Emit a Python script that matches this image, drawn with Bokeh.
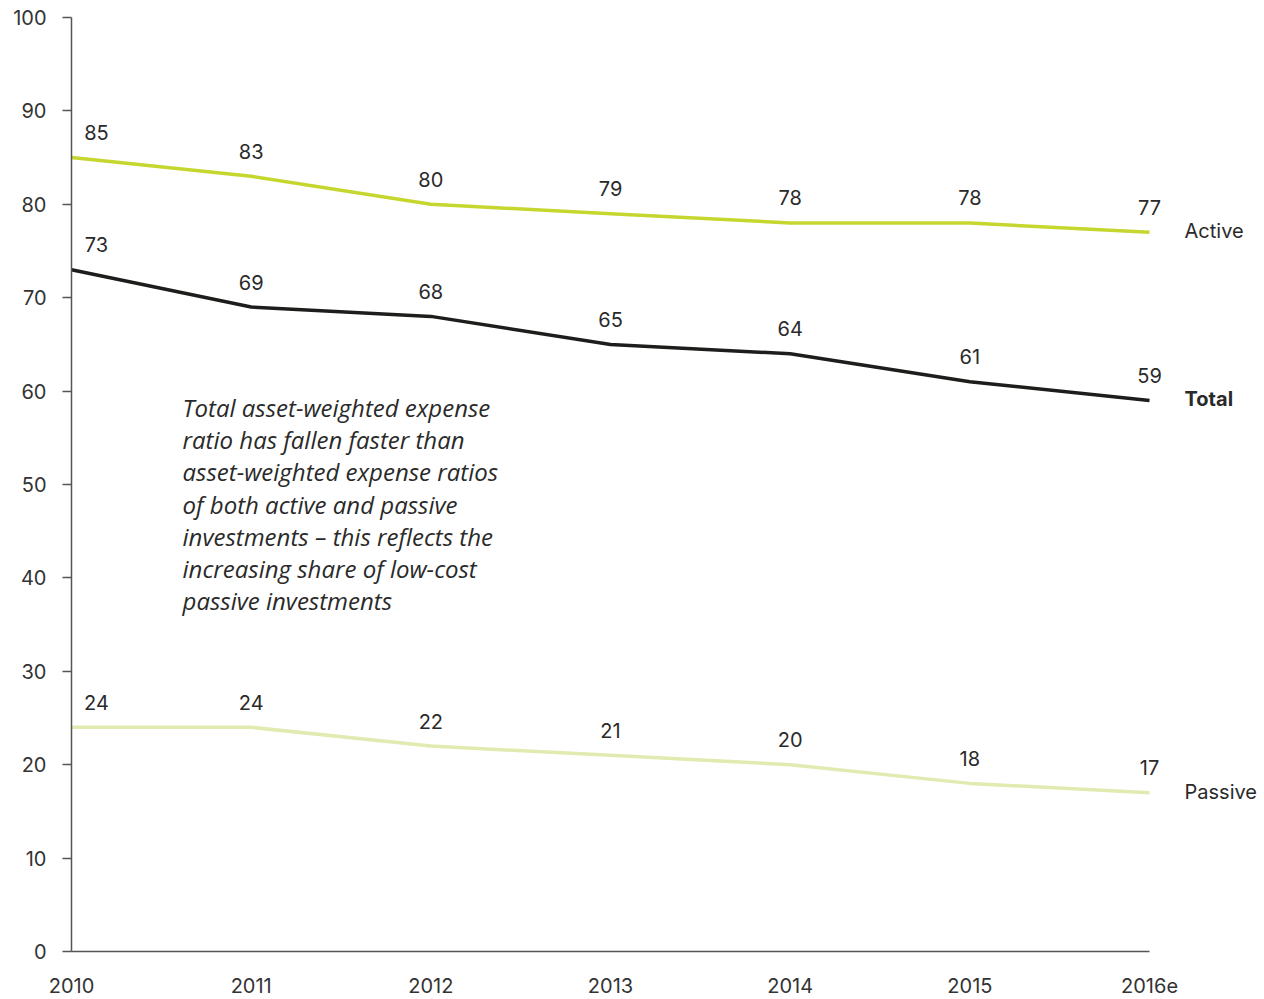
from bokeh.plotting import figure
from bokeh.models import Range1d, ColumnDataSource, FixedTicker
from bokeh.core.properties import value
from bokeh.embed import file_html
from bokeh.resources import INLINE

years = ["2010", "2011", "2012", "2013", "2014", "2015", "2016e"]
active = [85, 83, 80, 79, 78, 78, 77]
total = [73, 69, 68, 65, 64, 61, 59]
passive = [24, 24, 22, 21, 20, 18, 17]
y_ticks = [0, 10, 20, 30, 40, 50, 60, 70, 80, 90, 100]
note_lines = [
    "Total asset-weighted expense",
    "ratio has fallen faster than",
    "asset-weighted expense ratios",
    "of both active and passive",
    "investments \u2013 this reflects the",
    "increasing share of low-cost",
    "passive investments",
]

FONT = "Inter"
idx = list(range(len(years)))
last = len(years) - 1

p = figure(width=1264, height=999, output_backend="svg", toolbar_location=None,
           x_range=Range1d(0, last * 1.102), y_range=Range1d(0, 100),
           min_border_left=71, min_border_right=5, min_border_top=17, min_border_bottom=48)
p.outline_line_color = None
p.xgrid.visible = False
p.ygrid.visible = False
p.background_fill_color = "white"

# axes
p.yaxis.ticker = FixedTicker(ticks=y_ticks)
p.yaxis.major_tick_out = 9
p.yaxis.major_tick_in = 0
p.yaxis.minor_tick_line_color = None
p.yaxis.axis_line_color = "#555555"
p.yaxis.axis_line_width = 1.5
p.yaxis.major_tick_line_color = "#555555"
p.yaxis.major_tick_line_width = 1.5
p.yaxis.major_label_standoff = 16
p.yaxis.major_label_text_font = FONT
p.yaxis.major_label_text_font_size = "20px"
p.yaxis.major_label_text_color = "#333333"

p.xaxis.ticker = FixedTicker(ticks=idx)
p.xaxis.bounds = (0, last)
p.xaxis.major_label_overrides = {i: y for i, y in zip(idx, years)}
p.xaxis.major_tick_out = 0
p.xaxis.major_tick_in = 0
p.xaxis.minor_tick_line_color = None
p.xaxis.axis_line_color = "#555555"
p.xaxis.axis_line_width = 1.5
p.xaxis.major_label_standoff = 26
p.xaxis.major_label_text_font = FONT
p.xaxis.major_label_text_font_size = "20px"
p.xaxis.major_label_text_color = "#333333"

series = [
    ("Active", active, "#c5d72f", "normal"),
    ("Total", total, "#1d1d1b", "bold"),
    ("Passive", passive, "#e1eab0", "normal"),
]

for name, vals, color, style in series:
    src = ColumnDataSource(dict(x=idx, y=vals, lab=[str(v) for v in vals],
                                xo=[25 if i == 0 else 0 for i in idx]))
    p.line("x", "y", source=src, line_color=color, line_width=3.5)
    p.text("x", "y", text="lab", source=src, x_offset="xo", y_offset=-25,
           text_align="center", text_baseline="middle",
           text_font=value(FONT), text_font_size="20px", text_color="#2a2a2a")
    p.text([idx[-1]], [vals[-1]], text=[name], x_offset=35, y_offset=-1,
           text_align="left", text_baseline="middle",
           text_font=value(FONT), text_font_size="20px", text_color="#2a2a2a",
           text_font_style=style)

# annotation
note_y = [58.2 - 3.43 * i for i in range(len(note_lines))]
p.text([0.618] * len(note_lines), note_y, text=note_lines,
       text_align="left", text_baseline="middle",
       text_font=value("Open Sans"), text_font_size="24px", text_font_style="italic",
       text_color="#2a2a2a")

open("out.html", "w").write(file_html(p, INLINE))
